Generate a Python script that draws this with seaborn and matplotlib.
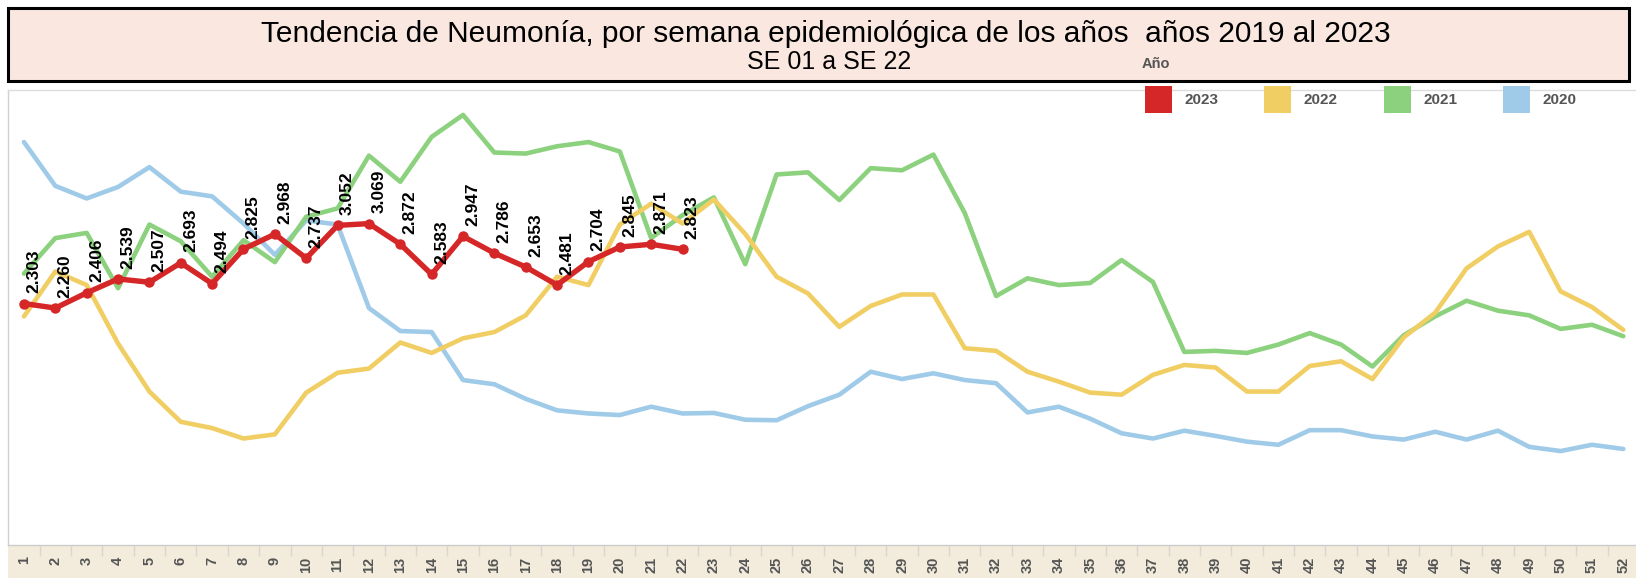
import pandas as pd
import numpy as np
import matplotlib
matplotlib.use("Agg")
import matplotlib.pyplot as plt
from matplotlib.patches import Rectangle
import seaborn as sns

# --- datos: casos de neumonía por semana epidemiológica ---
semanas = list(range(1, 53))
casos_2020 = [3850, 3430, 3310, 3420, 3610, 3375, 3330, 3070, 2770, 3100, 3060, 2260, 2040,
              2030, 1570, 1530, 1390, 1280, 1250, 1235, 1315, 1250, 1255, 1190, 1185, 1320,
              1430, 1650, 1580, 1635, 1570, 1540, 1260, 1315, 1200, 1060, 1010, 1085, 1035,
              980, 950, 1090, 1090, 1030, 1000, 1075, 1000, 1085, 930, 890, 950, 910]
casos_2021 = [2590, 2930, 2980, 2450, 3060, 2900, 2560, 2910, 2700, 3135, 3215, 3720, 3470,
              3900, 4110, 3750, 3740, 3810, 3850, 3760, 2930, 3150, 3320, 2680, 3540, 3560,
              3295, 3600, 3580, 3730, 3170, 2375, 2545, 2480, 2500, 2720, 2510, 1840, 1850,
              1830, 1910, 2020, 1910, 1700, 2000, 2180, 2330, 2235, 2190, 2060, 2100, 1990]
casos_2022 = [2180, 2610, 2480, 1920, 1460, 1170, 1110, 1010, 1050, 1450, 1640, 1680, 1930,
              1830, 1970, 2030, 2190, 2560, 2480, 3060, 3260, 3070, 3300, 2970, 2560, 2400,
              2080, 2280, 2390, 2390, 1875, 1850, 1650, 1555, 1450, 1430, 1620, 1715, 1690,
              1460, 1460, 1705, 1750, 1580, 1980, 2215, 2640, 2850, 2990, 2420, 2270, 2050]
casos_2023 = [2303, 2260, 2406, 2539, 2507, 2693, 2494, 2825, 2968, 2737, 3052, 3069, 2872,
              2583, 2947, 2786, 2653, 2481, 2704, 2845, 2871, 2823]

colores = {"2023": "#D62728", "2022": "#F1CE63", "2021": "#8CD17D", "2020": "#A0CBE8"}

df_prev = pd.concat([
    pd.DataFrame({"Semana": semanas, "Casos": casos_2020, "Año": "2020"}),
    pd.DataFrame({"Semana": semanas, "Casos": casos_2021, "Año": "2021"}),
    pd.DataFrame({"Semana": semanas, "Casos": casos_2022, "Año": "2022"}),
])
df_2023 = pd.DataFrame({"Semana": semanas[:len(casos_2023)], "Casos": casos_2023})

sns.set_theme(style="white")
plt.rcParams["font.family"] = ["Liberation Sans", "DejaVu Sans"]

W, H = 1636, 578
fig = plt.figure(figsize=(W / 100, H / 100), dpi=100)

# posiciones en pixeles (origen arriba a la izquierda)
x_izq = 8.3
y_sup, y_inf = 90, 545
ax_rect = [x_izq / W, 1 - y_inf / H, 1 - x_izq / W, (y_inf - y_sup) / H]

# banda beige de las semanas
ax_band = fig.add_axes([x_izq / W, 0, 1 - x_izq / W, 1 - y_inf / H])
ax_band.set_facecolor("#F3ECDC")
ax_band.set_xlim(0.5, 52.404)
ax_band.set_ylim(0, 1)
ax_band.vlines([s + 0.5 for s in semanas], 0.68, 1, color="#D9D6CF", lw=1)
ax_band.set_xticks([])
ax_band.set_yticks([])
for sp in ax_band.spines.values():
    sp.set_visible(False)

ax = fig.add_axes(ax_rect)
ax.set_facecolor("white")

sns.lineplot(data=df_prev, x="Semana", y="Casos", hue="Año",
             hue_order=["2020", "2021", "2022"], palette=colores,
             linewidth=3.3, legend=False, ax=ax)
sns.lineplot(data=df_2023, x="Semana", y="Casos", color=colores["2023"],
             linewidth=3.9, marker="o", markersize=7.5, markeredgewidth=0, ax=ax)

# etiquetas de 2023
for s, v in zip(df_2023["Semana"], df_2023["Casos"]):
    etiqueta = f"{v:,}".replace(",", ".")
    ax.annotate(etiqueta, (s, v), xytext=(7, 7.5), textcoords="offset points",
                rotation=90, ha="center", va="bottom", fontsize=12.5,
                fontweight="bold", color="black")

ax.set_xlim(0.5, 52.404)
ax.set_ylim(-10, 4349)
ax.set_xticks(semanas)
ax.set_xticklabels([str(s) for s in semanas], rotation=90, fontsize=10.5,
                   fontweight="bold", color="#555555")
ax.tick_params(axis="x", length=0, pad=8.2)
ax.set_yticks([])
ax.set_xlabel("")
ax.set_ylabel("")
ax.spines["right"].set_visible(False)
ax.spines["left"].set_color("#D0D0D0")
ax.spines["top"].set_color("#DDDDDD")
ax.spines["bottom"].set_color("#CCCCCC")
for sp in ax.spines.values():
    sp.set_linewidth(1)

# cabecera
fig.add_artist(Rectangle((8 / W, 1 - 80.5 / H), 1621 / W, 72 / H,
                         transform=fig.transFigure, facecolor="#F9E7E0",
                         edgecolor="black", linewidth=2.2, zorder=5))
fig.text(825.5 / W, 1 - 34 / H,
         "Tendencia de Neumonía, por semana epidemiológica de los años  años 2019 al 2023",
         ha="center", va="center", fontsize=21.5, color="black", zorder=6)
fig.text(829.5 / W, 1 - 62 / H, "SE 01 a SE 22", ha="center", va="center",
         fontsize=18, color="black", zorder=6)

# leyenda
fig.text(1142 / W, 1 - 64 / H, "Año", ha="left", va="center", fontsize=10.5,
         fontweight="bold", color="#555555", zorder=6)
for i, anio in enumerate(["2023", "2022", "2021", "2020"]):
    x0 = 1144.6 + i * 119.6
    fig.add_artist(Rectangle((x0 / W, 1 - 113 / H), 27 / W, 27 / H,
                             transform=fig.transFigure, facecolor=colores[anio],
                             edgecolor="none", zorder=6))
    fig.text((x0 + 39.5) / W, 1 - 100 / H, anio, ha="left", va="center",
             fontsize=11, fontweight="bold", color="#555555", zorder=6)

fig.savefig("out.png", dpi=100)
